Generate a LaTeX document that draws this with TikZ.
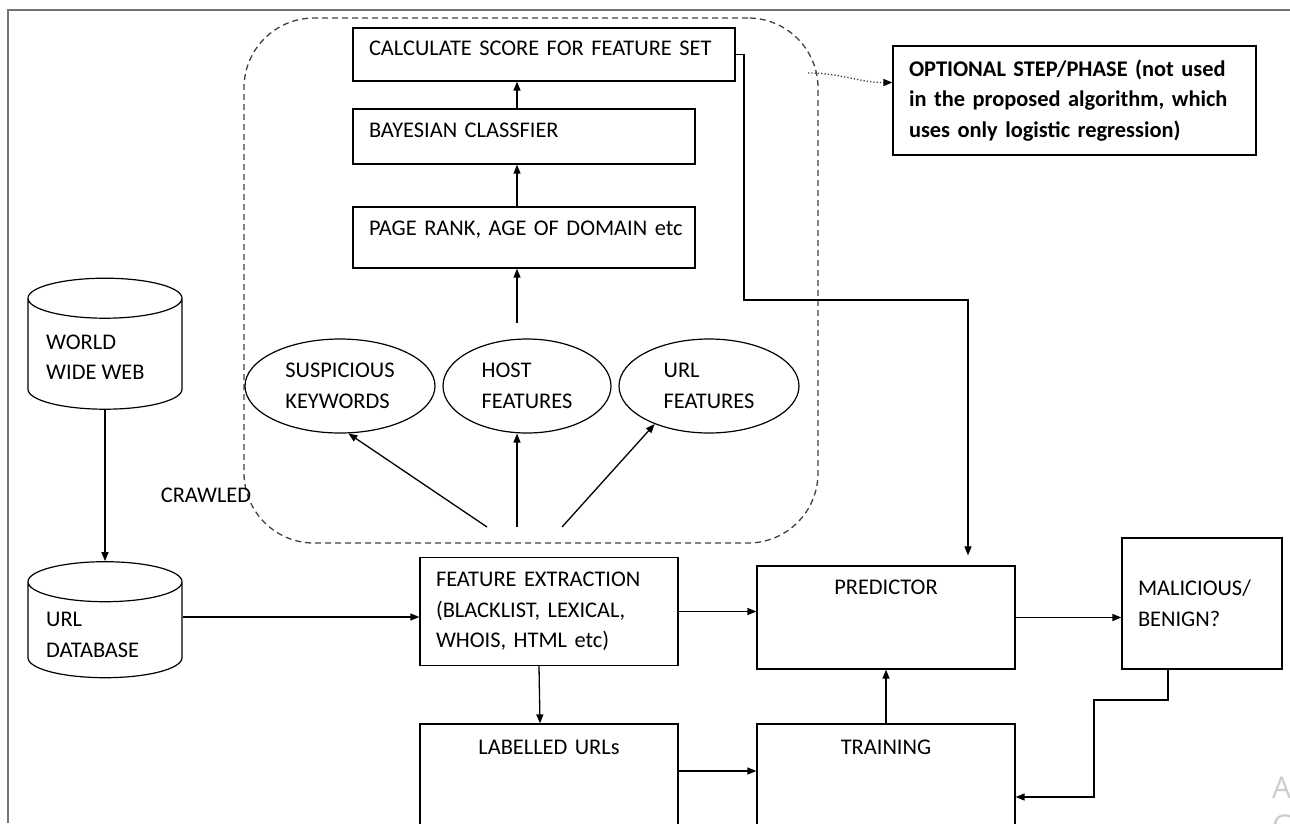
\documentclass[tikz,border=0pt]{standalone}
\usepackage{fontspec}
\setmainfont{Carlito}
\newfontfamily\markfont{Open Sans}
\usetikzlibrary{arrows.meta,positioning,shapes.geometric,fit}
\tikzset{
    stageBox/.style={
        draw,
        line width=1.2pt,
        inner xsep=16pt,
        inner ysep=0pt,
        align=left
    },
    textTop/.style={
        text height=16pt,
        text depth=#1
    },
    featEllipse/.style={
        draw,
        ellipse,
        line width=1.2pt,
        inner sep=0pt,
        minimum height=94pt,
        align=left
    },
    dbCylinder/.style={
        draw,
        cylinder,
        shape border rotate=90,
        shape aspect=0.4,
        line width=1.2pt,
        inner sep=0pt,
        text width=100pt,
        text height=2pt,
        text depth=0pt
    },
    dbText/.style={
        anchor=west,
        inner sep=0pt,
        align=left
    },
    groupDashed/.style={
        draw=black!75,
        dash pattern=on 6pt off 4pt,
        line width=1.3pt,
        rounded corners=70pt,
        inner sep=0pt
    },
    flowArrow/.style={
        -{Triangle[length=9pt,width=7pt]},
        line width=1.3pt
    },
    hintArrow/.style={
        -{Triangle[length=9pt,width=7pt,color=black]},
        dotted,
        line width=1.3pt,
        draw=black!75
    }
}

\begin{document}
\begin{tikzpicture}[x=1pt,y=-1pt,font=\fontsize{22.4}{30.5}\selectfont]
        \useasboundingbox (0,0) rectangle (1290,823);
        \draw[black!55,line width=2pt] (8,823) -- (8,10) -- (1290,10);

        % optional scoring group
        \node[groupDashed,minimum width=574pt,minimum height=525pt] (grp) at (531,280.5) {};
        \node[stageBox,text width=350pt,minimum height=53pt,textTop=15pt] (calc) at (544,54.5) {CALCULATE SCORE FOR FEATURE SET};
        \node[stageBox,text width=310pt,minimum height=55pt,textTop=15pt] (bayes) at (524,136.5) {BAYESIAN CLASSFIER};
        \node[stageBox,text width=310pt,minimum height=61pt,textTop=21pt] (rank) at (524,237.5) {\mbox{PAGE RANK, AGE OF DOMAIN etc}};
        \node[featEllipse,minimum width=190pt] (susp) at (340,386) {SUSPICIOUS\\KEYWORDS};
        \node[featEllipse,minimum width=168pt] (host) at (527,386) {HOST\\FEATURES};
        \node[featEllipse,minimum width=180pt] (urlfeat) at (709,386) {URL\\FEATURES};
        \node[stageBox,text width=331pt,minimum height=109pt,font=\fontsize{22.4}{30.5}\selectfont\bfseries] (optional) at (1074.5,100.5) {OPTIONAL STEP/PHASE (not used\\in the proposed algorithm, which\\uses only logistic regression)};

        % main pipeline
        \node[dbCylinder,minimum width=154pt,minimum height=131pt] (www) at (105,354) {};
        \node[dbText] (wwwText) at (46,357) {WORLD\\WIDE WEB};
        \node[dbCylinder,minimum width=154pt,minimum height=116pt] (urldb) at (105,630) {};
        \node[dbText] (urldbText) at (46,635) {URL\\DATABASE};
        \node (crawled) at (206,495) {CRAWLED};
        \node[stageBox,text width=226pt,minimum height=108pt] (feat) at (549,611.5) {FEATURE EXTRACTION\\(BLACKLIST, LEXICAL,\\WHOIS, HTML etc)};
        \node[stageBox,text width=226pt,align=center,minimum height=103pt,textTop=63pt] (pred) at (886,617.5) {PREDICTOR};
        \node[stageBox,text width=128pt,minimum height=131pt] (verdict) at (1202,603.5) {MALICIOUS/\\BENIGN?};
        \node[stageBox,text width=226pt,align=center,minimum height=146pt,textTop=102pt] (labelled) at (549,797) {LABELLED URLs};
        \node[stageBox,text width=226pt,align=center,minimum height=146pt,textTop=102pt] (train) at (886,797) {TRAINING};

        \node[anchor=base west,inner sep=0pt,text=black!20,font=\fontsize{30}{30}\selectfont\markfont] (markA) at (1272,798) {A};
        \node[anchor=base west,inner sep=0pt,text=black!20,font=\fontsize{30}{30}\selectfont\markfont] (markG) at (1272,836) {G};

        \coordinate (rise) at (517,323);
        \coordinate (fk) at (487,527);
        \coordinate (fh) at (517,527);
        \coordinate (fu) at (562,527);
        \coordinate (detour) at (744,300);
        \coordinate (loopback) at (1094,700);
        \coordinate (hintStart) at (808,73);

        \draw[flowArrow] ([xshift=-7pt]bayes.north) -- ([xshift=-7pt]bayes.north |- calc.south);
        \draw[flowArrow] ([xshift=-7pt]rank.north) -- ([xshift=-7pt]rank.north |- bayes.south);
        \draw[flowArrow] (rise) -- (rise |- rank.south);
        \draw[flowArrow] (fk) -- (susp.-80);
        \draw[flowArrow] (fh) -- (fh |- host.south);
        \draw[flowArrow] (fu) -- (urlfeat.-145);
        \draw[hintArrow] (hintStart) to[out=0,in=180] ([yshift=18pt]optional.west);
        \draw[flowArrow,shorten >=10pt] (calc.east) -| (detour) -| ([xshift=82pt]pred.north);

        \draw[flowArrow] (www.south) -- (urldb.north);
        \draw[flowArrow] ([yshift=13pt]urldb.east) -- ([yshift=13pt]urldb.east -| feat.west);
        \draw[flowArrow] (feat.east) -- (feat.east -| pred.west);
        \draw[flowArrow] (pred.east) -- (pred.east -| verdict.west);
        \draw[flowArrow] ([xshift=-10pt]feat.south) -- ([xshift=-9pt]labelled.north);
        \draw[flowArrow] ([yshift=26pt]labelled.east) -- ([yshift=26pt]train.west);
        \draw[flowArrow] (train.north) -- (pred.south);
        \draw[flowArrow] ([xshift=-34pt]verdict.south) |- (loopback) |- (train.east);
    \end{tikzpicture}
\end{document}
